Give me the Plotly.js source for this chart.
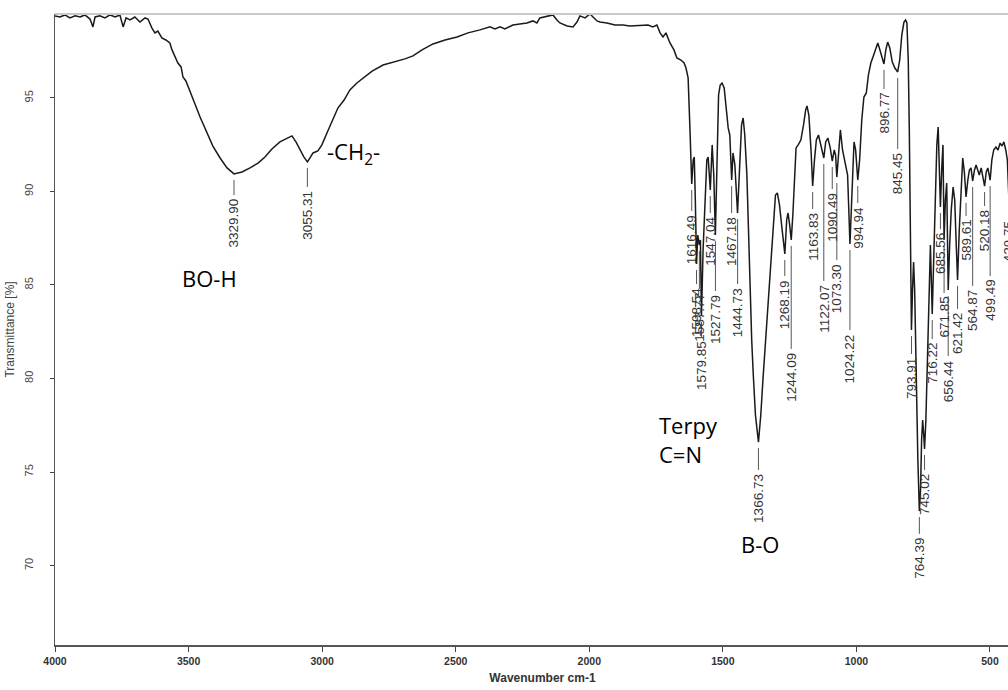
<!DOCTYPE html>
<html><head><meta charset="utf-8">
<script src="https://cdn.plot.ly/plotly-3.0.1.min.js"></script>
<style>html,body{margin:0;padding:0;overflow:hidden;background:#fff;} #chart{width:1030px;height:690px;}</style>
</head><body><div id="chart"></div>
<script>
// ---- Spectrum data (wavenumber cm-1, transmittance %) ----
const wavenumber = [4000,3981,3963,3944,3925,3906,3888,3869,3858,3850,3832,3813,3794,3775,3757,3745,3734,3719,3701,3682,3663,3652,3637,3626,3615,3600,3585,3570,3562,3551,3540,3528,3521,3510,3495,3476,3457,3431,3409,3382,3356,3330,3300,3270,3240,3214,3188,3158,3132,3113,3098,3083,3068,3055,3045,3034,3016,3001,2982,2959,2941,2918,2896,2870,2847,2813,2772,2727,2690,2660,2626,2585,2540,2495,2454,2409,2372,2353,2334,2316,2286,2260,2233,2211,2196,2185,2158,2136,2121,2110,2083,2061,2046,2035,2016,1997,1986,1971,1960,1934,1904,1874,1848,1810,1780,1762,1747,1735,1724,1713,1698,1683,1672,1657,1645,1638,1630,
1623,1616.5,1611,1607,1603,1598.5,1594,1588,1584,1580,1574,1566,1560,1555,1547,1540,1534,1528,1522,1516,1510,1503,1495,1488,1480,1474,1467,1462,1455,1445,1437,1430,1424,1418,1410,1403,1397,1392,1386,1378,1366.7,1358,1350,1340,1330,1318,1310,1303,1296,1288,1280,1268,1261,1256,1250,1244,1238,1232,1226,1218,1208,1198,1190,1185,1178,1170,1163.8,1157,1150,1142,1133,1122,1115,1107,1098,1090.5,1083,1078,1073.3,1067,1060,1052,1045,1038,1033,1024.2,1016,1009,1003,995,988,980,972,963,955,946,938,928,920,912,905,897,890,883,875,866,856,845.5,838,830,822,816,811,806,802,798,794,790,786,782,776,770,764.4,760,756,752,748,745,740,735,730,727,723,716.2,710,704,699,694,690,685.6,680,676,671.9,667,662,656.4,651,645,638,632,627,621.4,615,608,602,596,589.6,583,577,571,564.9,558,552,546,540,533,527,520.2,514,508,499.5,493,486,478,470,462,455,448,441,435,429.8,424,415];
const transmittance = [99.39,99.33,99.44,99.28,99.39,99.33,99.44,99.22,98.80,99.33,99.39,99.28,99.44,99.33,99.44,98.80,99.28,99.17,99.33,99.06,99.28,99.22,98.74,98.48,98.58,98.21,98.10,97.94,97.57,97.19,96.87,96.66,96.12,95.91,95.32,94.68,93.98,93.13,92.43,91.79,91.26,90.94,91.04,91.26,91.52,91.84,92.27,92.65,92.81,92.97,92.65,92.22,91.84,91.58,91.84,92.06,92.17,92.49,93.13,93.93,94.46,94.89,95.43,95.80,96.07,96.44,96.76,96.93,97.09,97.25,97.57,97.89,98.10,98.26,98.48,98.64,98.80,98.69,98.80,98.69,98.90,98.96,99.01,99.12,99.01,99.28,99.39,99.44,99.17,99.01,98.85,98.80,99.06,99.39,99.28,99.49,99.33,99.12,99.06,99.01,98.90,98.90,98.85,98.90,98.90,98.80,98.90,98.48,98.26,98.48,97.94,97.57,97.14,97.03,96.87,96.60,96.07,
93.29,90.40,91.69,91.84,89.54,86.12,87.67,87.14,87.41,83.34,86.87,90.08,91.69,91.84,90.08,92.49,90.88,87.67,92.22,95.16,95.69,95.80,95.53,94.36,93.40,93.02,90.61,92.06,91.42,88.85,91.69,93.56,93.93,93.02,90.88,87.41,83.66,82.06,80.19,78.05,76.60,78.05,79.92,82.06,84.20,86.87,88.74,89.81,89.92,89.28,88.21,86.66,88.48,88.85,88.21,87.41,88.74,90.88,92.33,92.49,92.75,93.56,94.36,94.57,94.09,92.22,90.29,91.69,92.75,93.02,92.49,91.79,92.65,92.86,92.33,91.63,92.22,91.95,90.77,92.22,93.29,92.22,91.69,91.26,90.88,87.19,89.81,92.65,92.22,90.61,91.69,93.82,95.05,95.27,96.23,96.87,97.19,97.67,97.94,97.57,97.19,96.82,97.57,97.99,97.67,96.93,96.60,96.39,97.03,98.37,99.06,99.17,99.01,97.03,93.29,86.87,82.59,84.73,86.23,84.73,79.92,75.64,72.91,74.04,76.71,77.78,76.98,76.23,77.78,80.45,83.13,85.80,87.14,83.45,86.34,90.08,92.49,93.45,91.69,89.17,91.42,92.49,87.41,89.54,90.45,84.73,87.14,89.01,90.24,89.54,87.41,85.27,87.94,90.35,91.79,91.04,89.71,90.61,91.15,91.26,90.56,91.15,91.42,91.15,90.88,91.26,90.88,90.29,91.04,91.26,90.61,91.69,92.22,92.38,92.22,92.59,92.43,92.65,92.22,91.69,89.81,91.69,92.22];

// ---- Peak labels ----
const peakWavenumbers = [3329.90,3055.31,1616.49,1598.54,1587.77,1579.85,1547.04,1527.79,1467.18,1444.73,1366.73,1268.19,1244.09,1163.83,1122.07,1090.49,1073.30,1024.22,994.94,896.77,845.45,793.91,764.39,745.02,716.22,685.56,671.85,656.44,621.42,589.61,564.87,520.18,499.49,429.75];
const peakTransmittance = [90.94,91.58,90.40,86.12,87.14,83.34,90.08,87.67,90.61,88.85,76.60,86.66,87.41,90.29,91.79,91.63,90.77,87.19,90.61,96.82,96.39,82.59,72.91,76.23,83.45,89.17,87.41,84.73,85.27,89.71,90.56,90.29,90.61,89.81];
const peakLabelLevel = [89.65,90.08,88.80,84.89,84.63,82.06,88.69,84.52,88.69,84.89,74.95,85.32,81.42,88.90,85.05,89.97,86.18,82.43,89.22,95.32,92.11,81.15,71.53,74.95,81.95,87.83,84.41,81.04,83.56,88.53,84.79,89.06,85.32,88.48];

// ---- Axis ticks ----
const xTickValues = [4000,3500,3000,2500,2000,1500,1000,500];
const yTickValues = [70,75,80,85,90,95];

// ---- Band assignments ----
const bandText = ['BO-H','-CH<sub>2</sub>-','Terpy<br>C=N','B-O'];
const bandX = [3420,2989,1746,1361];
const bandY = [85.37,92.06,76.75,71.15];
const bandAnchor = ['center','left','left','center'];

const W = 1030, H = 690, M = {l:55, r:0, t:14, b:45};
const yRange = [65.75, 99.49];
const pxPerUnitX = 0.26714;
const xRange = [4000, 4000 - (W - M.l - M.r) / pxPerUnitX];
const pxPerT = (H - M.t - M.b) / (yRange[1] - yRange[0]);

const shapes = [{type:'line', xref:'paper', yref:'paper', x0:0, x1:1, y0:1, y1:1, line:{color:'#c8c8c8', width:2}}];
const annotations = [];
peakWavenumbers.forEach((wn, i) => {
  shapes.push({type:'line', xref:'x', yref:'y', x0:wn, x1:wn,
    y0: peakTransmittance[i] - 6 / pxPerT, y1: peakLabelLevel[i] + 3 / pxPerT,
    line:{color:'#555', width:1}});
  annotations.push({x:wn, y:peakLabelLevel[i], xref:'x', yref:'y', text:wn.toFixed(2),
    textangle:-90, showarrow:false, xanchor:'center', yanchor:'top', borderpad:0,
    font:{family:'Arial', size:13.5, color:'#333'}});
});
bandText.forEach((t, i) => {
  annotations.push({x:bandX[i], y:bandY[i], xref:'x', yref:'y', text:t, showarrow:false,
    xanchor:bandAnchor[i], yanchor:'middle', align:'left',
    font:{family:'Open Sans', size:22, color:'#000'}});
});

const trace = {x:wavenumber, y:transmittance, type:'scatter', mode:'lines',
  line:{color:'#1a1a1a', width:1.5}, hoverinfo:'skip'};

const layout = {
  width:W, height:H, margin:M, paper_bgcolor:'#fff', plot_bgcolor:'#fff', showlegend:false,
  xaxis:{range:xRange, tickvals:xTickValues, ticktext:xTickValues.map(String), ticks:'outside', ticklen:5,
    tickcolor:'#444', showline:true, linecolor:'#555', linewidth:2, showgrid:false, zeroline:false,
    tickfont:{family:'Arial', size:10.5, color:'#333', weight:'bold'},
    title:{text:'Wavenumber cm-1', font:{family:'Arial', size:12, color:'#333', weight:'bold'}, standoff:8}},
  yaxis:{range:yRange, tickvals:yTickValues, ticktext:yTickValues.map(String), ticks:'outside', ticklen:4,
    tickcolor:'#444', showline:true, linecolor:'#555', linewidth:1.5, showgrid:false, zeroline:false,
    tickangle:-90, ticklabelstandoff:12, tickfont:{family:'Arial', size:11, color:'#444'},
    title:{text:'Transmittance [%]', font:{family:'Arial', size:12, color:'#444'}, standoff:6}},
  shapes:shapes, annotations:annotations
};
Plotly.newPlot('chart', [trace], layout, {staticPlot:true, displayModeBar:false});
</script></body></html>
